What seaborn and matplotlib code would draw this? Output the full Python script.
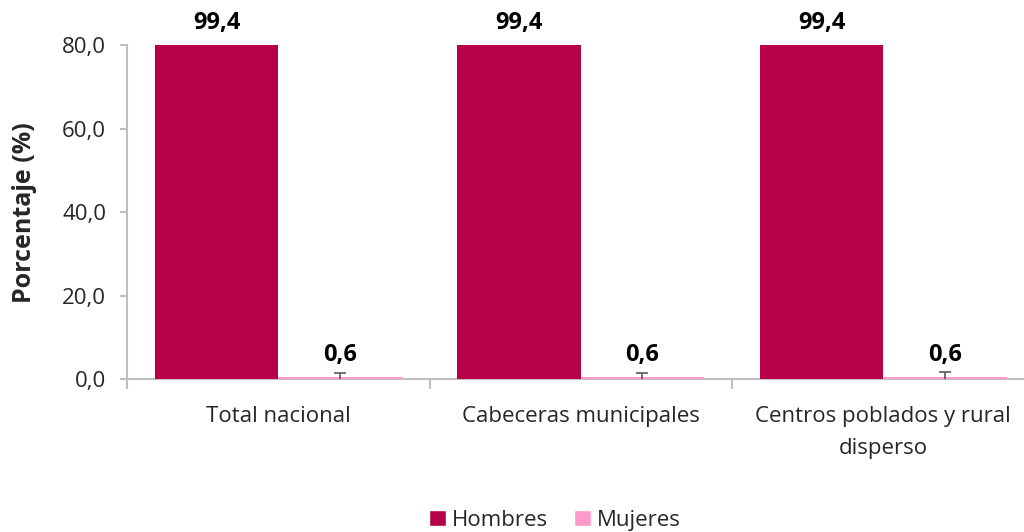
import pandas as pd
import numpy as np
import matplotlib.pyplot as plt
import seaborn as sns
from matplotlib.ticker import FuncFormatter, FixedLocator

sns.set_theme(style="white")
plt.rcParams['font.family'] = ['Open Sans', 'DejaVu Sans']

# Data
categorias = ['Total nacional', 'Cabeceras municipales', 'Centros poblados y rural\ndisperso']
hombres = [99.4, 99.4, 99.4]
mujeres = [0.6, 0.6, 0.6]
err_hombres = [0.9, 0.9, 1.1]
err_mujeres = [0.9, 0.9, 1.1]
series = ['Hombres', 'Mujeres']
colores = {'Hombres': '#B8004A', 'Mujeres': '#FF99CC'}

df = pd.DataFrame({
    'Categoria': categorias * 2,
    'Sexo': ['Hombres'] * 3 + ['Mujeres'] * 3,
    'Valor': hombres + mujeres,
    'Error': err_hombres + err_mujeres,
})

FS = 16

fig = plt.figure(figsize=(10.24, 5.32), dpi=100)
ax = fig.add_axes([0.124, 0.2867, 0.876, 0.6287])

sns.barplot(data=df, x='Categoria', y='Valor', hue='Sexo', palette=colores,
            errorbar=None, width=0.815, ax=ax, saturation=1, legend=True)

ymax = 80
ax.set_ylim(0, ymax)
ax.set_xlim(-0.5, 2.465)

# error bars and value labels
for cont, sexo in zip(ax.containers, series):
    sub = df[df['Sexo'] == sexo]
    for patch, val, err in zip(cont, sub['Valor'], sub['Error']):
        patch.set_zorder(3)
        patch.set_linewidth(0)
        xc = patch.get_x() + patch.get_width() / 2
        ax.errorbar(xc, val, yerr=err, fmt='none', ecolor='#595959',
                    elinewidth=1.2, capsize=4, capthick=1.2, zorder=4)
        top = min(val, ymax)
        ax.annotate(f'{val:.1f}'.replace('.', ','), (xc, top),
                    xytext=(0, 7), textcoords='offset points',
                    ha='center', va='bottom', fontsize=17,
                    fontweight='bold', color='black', annotation_clip=False)

ax.set_yticks([0, 20, 40, 60, 80])
ax.yaxis.set_major_formatter(FuncFormatter(lambda v, p: f'{v:.1f}'.replace('.', ',')))
ax.set_ylabel('Porcentaje (%)', fontsize=18, fontweight='bold', labelpad=18)
ax.set_xlabel('')

for s in ['top', 'right']:
    ax.spines[s].set_visible(False)
for s in ['left', 'bottom']:
    ax.spines[s].set_color('#BFBFBF')
    ax.spines[s].set_linewidth(1.5)
    ax.spines[s].set_zorder(2)

ax.tick_params(axis='y', which='major', length=5, width=1.5, color='#BFBFBF',
               labelsize=FS, pad=10, left=True, direction='out')
ax.tick_params(axis='x', which='major', length=0, labelsize=FS, pad=19)
ax.set_xticks(range(len(categorias)))
ax.set_xticklabels(categorias, linespacing=1.7)
ax.xaxis.set_minor_locator(FixedLocator([-0.5, 0.5, 1.5]))
ax.tick_params(axis='x', which='minor', length=7, width=1.5, color='#BFBFBF',
               bottom=True, direction='out')

handles, labels = ax.get_legend_handles_labels()
ax.legend(handles, labels, loc='lower center', bbox_to_anchor=(0.542, -0.035),
          bbox_transform=fig.transFigure, ncol=2, frameon=False, fontsize=FS,
          handlelength=0.75, handleheight=0.75, handletextpad=0.25, columnspacing=1.2)

fig.savefig('out.png', dpi=100)
